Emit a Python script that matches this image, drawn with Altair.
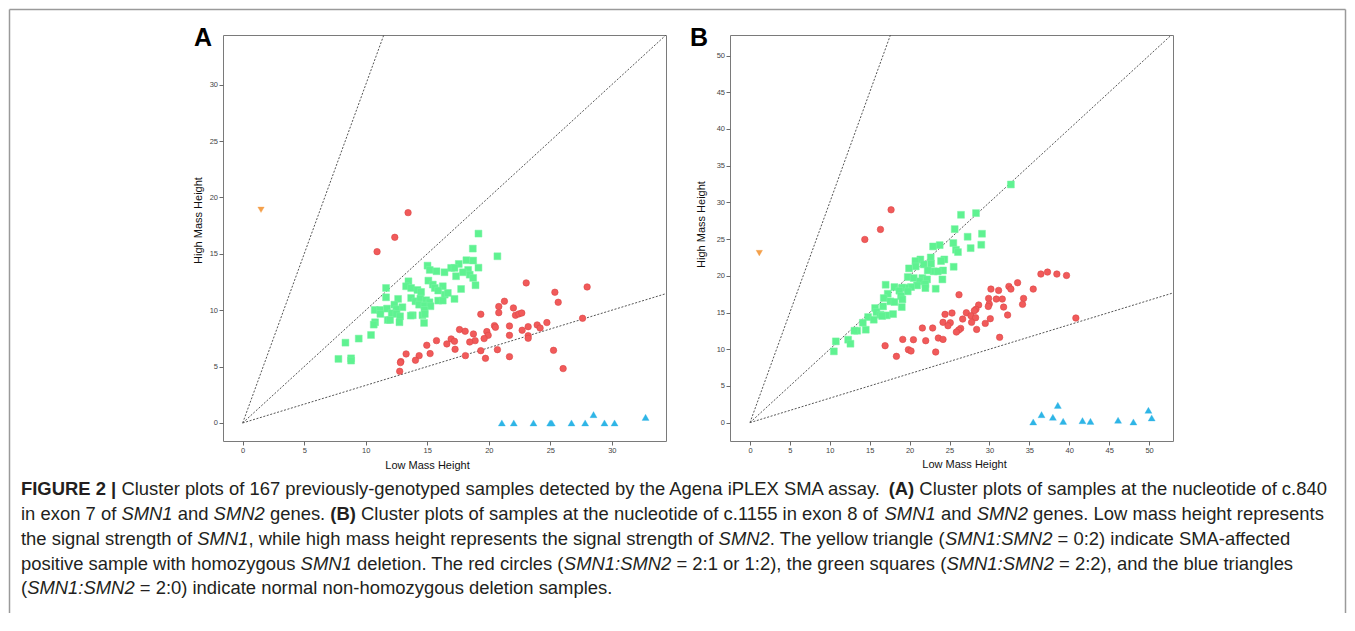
import altair as alt
import pandas as pd

FONT = "Liberation Sans, Arial, Helvetica, sans-serif"

# ---------------- Panel A data (c.840, exon 7) ----------------
A_red_x = [13.44, 12.36, 10.92, 23.04, 27.99, 25.37, 25.64, 21.27, 20.81, 22.0, 19.35, 20.81, 22.17, 22.44,
           22.68, 27.62, 24.72, 23.93, 24.17, 23.2, 21.68, 20.46, 20.54, 22.71, 17.62, 18.08, 18.75, 19.84,
           19.95, 21.68, 23.2, 23.2, 19.62, 18.89, 18.45, 16.94, 17.21, 15.75, 16.59, 17.26, 14.96, 20.7,
           19.35, 25.26, 13.28, 15.23, 18.10, 14.34, 21.68, 19.73, 14.04, 12.85, 12.82, 12.76, 26.04]
A_red_y = [18.65, 16.46, 15.19, 12.42, 12.06, 11.59, 10.70, 10.79, 10.32, 10.20, 9.64, 9.78, 9.55, 9.67,
           9.75, 9.28, 8.90, 8.69, 8.42, 8.54, 8.60, 8.63, 8.48, 8.22, 8.28, 8.13, 7.89, 8.10,
           7.77, 7.77, 7.74, 7.51, 7.48, 7.30, 7.18, 7.45, 7.24, 7.30, 7.01, 6.53, 6.89, 6.50,
           6.41, 6.44, 6.12, 6.15, 5.97, 5.97, 5.88, 5.73, 5.56, 5.44, 5.35, 4.58, 4.82]
A_green_x = [19.16, 18.7, 20.70, 18.18, 18.73, 17.56, 19.16, 16.94, 17.21, 15.02, 15.20, 15.75, 16.40, 18.32,
             17.89, 18.45, 18.73, 18.92, 17.34, 17.75, 15.09, 15.45, 15.61, 16.26, 16.42, 16.67, 15.89, 15.89,
             17.21, 16.26, 13.47, 13.28, 13.69, 14.2, 14.5, 13.69, 14.04, 14.44, 14.91, 15.18, 14.34, 14.77,
             15.26, 14.77, 14.61, 13.82, 13.66, 14.80, 11.65, 11.65, 12.63, 12.33, 12.98, 12.49, 11.73, 10.73,
             11.17, 11.19, 12.11, 12.49, 12.79, 11.79, 11.98, 12.74, 10.76, 10.65, 14.74, 10.43, 9.43, 8.35,
             7.78, 8.81, 8.81]
A_green_y = [16.79, 15.46, 14.78, 14.43, 14.40, 14.10, 13.77, 13.75, 13.75, 13.95, 13.57, 13.45, 13.36, 13.57,
             13.36, 13.15, 12.86, 12.21, 13.01, 11.88, 12.62, 12.27, 11.97, 12.12, 11.38, 11.53, 11.74, 10.85,
             11.0, 10.85, 12.56, 12.12, 11.97, 11.79, 11.62, 11.08, 10.79, 11.03, 10.88, 10.70, 10.49, 10.40,
             10.35, 10.02, 9.55, 9.55, 9.52, 9.67, 11.97, 11.14, 11.0, 10.49, 10.26, 10.08, 10.14, 10.02,
             10.02, 9.67, 9.73, 9.67, 9.46, 9.13, 9.13, 8.93, 8.93, 8.72, 8.87, 7.80, 7.48, 7.12,
             5.68, 5.73, 5.53]
A_blue_x = [21.06, 22.03, 23.63, 24.99, 25.12, 26.72, 27.83, 28.51, 29.40, 30.22, 32.74]
A_blue_y = [0.0, 0.0, 0.0, 0.0, 0.0, 0.0, 0.0, 0.74, 0.0, 0.0, 0.5]
A_orange_x = [1.49]
A_orange_y = [18.9]

# ---------------- Panel B data (c.1155, exon 8) ----------------
B_red_x = [17.68, 16.35, 14.39, 36.45, 37.28, 38.45, 39.66, 33.53, 32.44, 32.69, 30.19, 31.15, 35.49, 26.19,
           34.28, 29.90, 30.86, 31.61, 29.98, 34.15, 28.65, 29.86, 31.78, 28.31, 28.11, 27.11, 25.31, 24.44,
           27.69, 32.28, 28.27, 26.65, 30.11, 40.83, 24.19, 25.1, 27.77, 29.48, 24.81, 21.60, 22.89, 26.4,
           28.40, 26.15, 25.86, 31.28, 23.60, 24.19, 19.14, 20.48, 22.02, 16.93, 19.85, 20.18, 23.27, 18.35]
B_red_y = [28.99, 26.32, 24.95, 20.24, 20.51, 20.24, 20.05, 19.06, 18.56, 18.19, 18.19, 18.01, 18.19, 17.42,
           16.92, 16.92, 16.83, 16.83, 16.15, 16.11, 16.02, 15.83, 15.74, 15.43, 15.25, 14.97, 14.93, 14.75,
           14.56, 14.66, 14.29, 14.11, 14.16, 14.25, 13.66, 13.61, 13.66, 13.52, 13.20, 12.89, 12.89, 12.84,
           12.70, 12.61, 12.34, 11.62, 11.52, 11.34, 11.34, 11.30, 11.16, 10.48, 9.94, 9.76, 9.62, 9.03]
B_green_x = [32.69, 28.32, 26.44, 25.65, 29.07, 27.27, 25.48, 28.98, 25.81, 26.06, 27.65, 22.94, 23.77, 22.65,
             21.35, 20.73, 24.35, 23.94, 21.77, 20.77, 22.69, 19.93, 25.52, 24.19, 23.02, 23.52, 22.27, 19.77,
             21.6, 22.19, 24.11, 20.52, 21.27, 21.98, 20.93, 20.18, 19.43, 19.06, 18.1, 17.0, 23.27, 21.98,
             19.77, 18.72, 17.26, 18.93, 16.76, 17.6, 18.1, 19.1, 16.68, 15.68, 19.02, 15.85, 16.35, 17.14,
             17.93, 16.56, 14.80, 15.51, 14.14, 13.43, 13.09, 14.51, 10.76, 12.30, 12.59, 10.51]
B_green_y = [32.44, 28.54, 28.31, 26.36, 25.73, 25.32, 24.46, 24.23, 23.55, 23.23, 23.77, 24.0, 24.18, 22.5,
             22.23, 22.01, 22.23, 22.01, 21.55, 21.28, 21.64, 21.01, 21.23, 20.73, 20.6, 20.6, 20.73, 19.83,
             19.69, 19.51, 19.51, 19.69, 19.24, 18.87, 18.69, 18.47, 18.38, 18.38, 18.47, 18.78, 18.24, 18.33,
             17.88, 17.97, 17.56, 17.24, 16.97, 16.52, 16.43, 16.79, 15.83, 15.61, 15.74, 15.06, 14.70, 14.61,
             14.79, 14.52, 14.38, 14.02, 13.61, 12.52, 12.52, 12.66, 11.07, 11.30, 10.75, 9.71]
B_blue_x = [35.49, 36.53, 37.95, 38.57, 39.24, 41.66, 42.66, 46.12, 48.04, 49.92, 50.33]
B_blue_y = [0.09, 1.09, 0.73, 2.36, 0.18, 0.27, 0.18, 0.32, 0.09, 1.68, 0.64]
B_orange_x = [1.17]
B_orange_y = [23.09]

# axes
A_xdom, A_ydom = [-1.6, 34.4], [-1.6, 34.4]
B_xdom, B_ydom = [-2.5, 53.0], [-2.5, 52.8]
A_xticks = [0, 5, 10, 15, 20, 25, 30]
A_yticks = [0, 5, 10, 15, 20, 25, 30]
B_xticks = [0, 5, 10, 15, 20, 25, 30, 35, 40, 45, 50]
B_yticks = [0, 5, 10, 15, 20, 25, 30, 35, 40, 45, 50]
REF_SLOPES = [3.0, 1.0, 1.0 / 3.0]

RED, RED_STROKE = "#f15a5a", "#dc4646"
GREEN = "#5ff291"
BLUE = "#2eb5e6"
ORANGE = "#f4a04b"
BORDER = "#9a9a9a"

PW, PH = 443, 406

# ---------------- caption text ----------------
CAPTION = [
    [("b", "FIGURE 2 | "), ("r", "Cluster plots of 167 previously-genotyped samples detected by the Agena iPLEX SMA assay. "),
     ("b", "(A)"), ("r", " Cluster plots of samples at the nucleotide of c.840")],
    [("r", "in exon 7 of "), ("i", "SMN1"), ("r", " and "), ("i", "SMN2"), ("r", " genes. "), ("b", "(B)"),
     ("r", " Cluster plots of samples at the nucleotide of c.1155 in exon 8 of "), ("i", "SMN1"),
     ("r", " and "), ("i", "SMN2"), ("r", " genes. Low mass height represents")],
    [("r", "the signal strength of "), ("i", "SMN1"),
     ("r", ", while high mass height represents the signal strength of "), ("i", "SMN2"),
     ("r", ". The yellow triangle ("), ("i", "SMN1:SMN2"), ("r", " = 0:2) indicate SMA-affected")],
    [("r", "positive sample with homozygous "), ("i", "SMN1"), ("r", " deletion. The red circles ("),
     ("i", "SMN1:SMN2"), ("r", " = 2:1 or 1:2), the green squares ("), ("i", "SMN1:SMN2"),
     ("r", " = 2:2), and the blue triangles")],
    [("r", "("), ("i", "SMN1:SMN2"), ("r", " = 2:0) indicate normal non-homozygous deletion samples.")],
]

# Helvetica / Arial (Liberation Sans) advance widths, 1/1000 em
REG = {" ": 278, "(": 333, ")": 333, ",": 278, "-": 333, ".": 278, ":": 278, "=": 584, "|": 260}
REG.update({d: 556 for d in "0123456789"})
REG.update(dict(zip("ABCDEFGHIJKLMNOPQRSTUVWXYZ",
                    [667, 667, 722, 722, 667, 611, 778, 722, 278, 500, 667, 556, 833, 722, 778, 667, 778,
                     722, 667, 611, 722, 667, 944, 667, 667, 611])))
REG.update(dict(zip("abcdefghijklmnopqrstuvwxyz",
                    [556, 556, 500, 556, 556, 278, 556, 556, 222, 222, 500, 222, 833, 556, 556, 556, 556,
                     333, 500, 278, 556, 500, 722, 500, 500, 500])))
BOLD = dict(REG)
BOLD.update({"|": 280, "A": 722, "B": 722, "R": 722, "U": 722, "G": 778, "F": 611, "E": 667, "I": 278})


def em(s, st):
    t = BOLD if st == "b" else REG
    return sum(t.get(c, 556) for c in s) / 1000.0


LINE1_PX = 1306.0
CAP_SIZE = round(LINE1_PX / sum(em(s, st) for st, s in CAPTION[0]), 2)
CAP_X0 = -202          # caption left edge relative to panel A's plot area
CAP_Y0 = 460.25        # first caption baseline relative to panel A's plot area
CAP_DY = 24.75
STYLE = {"r": ("normal", "normal"), "b": ("bold", "normal"), "i": ("normal", "italic")}


def caption_layers():
    out = []
    for i, line in enumerate(CAPTION):
        cur = 0.0
        for st, s in line:
            lead = len(s) - len(s.lstrip(" "))
            txt = s.strip(" ")
            if txt:
                px = CAP_X0 + (cur + em(" " * lead, st)) * CAP_SIZE
                py = CAP_Y0 + i * CAP_DY
                w, fs = STYLE[st]
                out.append(alt.Chart(pd.DataFrame({"t": [txt]})).mark_text(
                    align="left", baseline="alphabetic", fontSize=CAP_SIZE, font=FONT, fontWeight=w,
                    fontStyle=fs, color="#231f20").encode(
                    text="t:N", x=alt.value(round(px, 2)), y=alt.value(py)))
            cur += em(s, st)
    return out


def border_layers(segments):
    # each segment: (x, x2, y, y2) in pixels relative to the plot area
    out = []
    for (x, x2, y, y2) in segments:
        out.append(alt.Chart(pd.DataFrame({"k": [0]})).mark_rule(color=BORDER, strokeWidth=1.5).encode(
            x=alt.value(x), x2=alt.value(x2), y=alt.value(y), y2=alt.value(y2)))
    return out


def panel(rx, ry, gx, gy, bx, by, ox, oy, xdom, ydom, xt, yt, label, label_x, ytitle, xtitle, extra):
    xs = alt.Scale(domain=xdom, nice=False, zero=False)
    ys = alt.Scale(domain=ydom, nice=False, zero=False)
    common = dict(grid=False, domain=False, tickSize=4, tickColor="#6a6a6a", tickWidth=1,
                  labelFontSize=7.5, labelColor="#444444", labelFont=FONT, titleFont=FONT,
                  titleFontSize=11, titleFontWeight="normal", titleColor="#111111",
                  titleAlign="center", titleBaseline="middle", format="d", labelOverlap=False)
    X = alt.X("x:Q", scale=xs, axis=alt.Axis(values=xt, title="Low Mass Height", titleX=xtitle[0],
                                             titleY=xtitle[1], labelPadding=1, **common))
    Y = alt.Y("y:Q", scale=ys, axis=alt.Axis(values=yt, title="High Mass Height", titleX=ytitle[0],
                                             titleY=ytitle[1], labelPadding=1.5, **common))
    rows = []
    for s in REF_SLOPES:
        xe = min(xdom[1], ydom[1] / s)
        rows += [{"x": 0.0, "y": 0.0, "s": str(s)}, {"x": xe, "y": s * xe, "s": str(s)}]
    lines = alt.Chart(pd.DataFrame(rows)).mark_line(
        strokeDash=[2, 1.6], color="#555555", strokeWidth=1, clip=True).encode(x=X, y=Y, detail="s:N")

    def pts(xv, yv, shape, size, fill, stroke, sw):
        return alt.Chart(pd.DataFrame({"x": xv, "y": yv})).mark_point(
            shape=shape, size=size, filled=True, fill=fill, stroke=stroke, strokeWidth=sw,
            opacity=1).encode(x=X, y=Y)

    red = pts(rx, ry, "circle", 42, RED, RED_STROKE, 0.6)
    green = pts(gx, gy, "square", 48, GREEN, "#7af5a4", 0.5)
    blue = pts(bx, by, "triangle-up", 50, BLUE, BLUE, 0.3)
    orange = pts(ox, oy, "triangle-down", 42, ORANGE, ORANGE, 0.3)
    lab = alt.Chart(pd.DataFrame({"t": [label]})).mark_text(
        align="left", baseline="alphabetic", fontSize=25, fontWeight="bold", font=FONT,
        color="#000000").encode(text="t:N", x=alt.value(label_x), y=alt.value(11))
    layers = [lines, red, green, blue, orange, lab] + extra
    return alt.layer(*layers).properties(width=PW, height=PH)


# figure border geometry (pixels relative to each panel's plot area)
TOP = -25.5         # top edge of the figure frame
FRAME_BOTTOM = 578  # frame sides run down to the bottom of the picture
A_LEFT = -213.5     # frame left edge relative to panel A
A_TOP_END = 475
B_TOP_START = -32   # relative to panel B
B_RIGHT = 615.5

panelA = panel(A_red_x, A_red_y, A_green_x, A_green_y, A_blue_x, A_blue_y, A_orange_x, A_orange_y,
               A_xdom, A_ydom, A_xticks, A_yticks, "A", -29, (-25, 185), (204, 24),
               border_layers([(A_LEFT, A_LEFT, TOP, FRAME_BOTTOM), (A_LEFT, A_TOP_END, TOP, TOP)])
               + caption_layers())
panelB = panel(B_red_x, B_red_y, B_green_x, B_green_y, B_blue_x, B_blue_y, B_orange_x, B_orange_y,
               B_xdom, B_ydom, B_xticks, B_yticks, "B", -40, (-28.3, 189), (234, 23),
               border_layers([(B_TOP_START, B_RIGHT, TOP, TOP), (B_RIGHT, B_RIGHT, TOP, FRAME_BOTTOM)]))

chart = alt.hconcat(panelA, panelB, spacing=64, bounds="flush").properties(padding=0).configure_view(
    stroke="#7a7a7a", strokeWidth=1)

chart.save("out.html", embed_options={"renderer": "svg", "actions": False})
